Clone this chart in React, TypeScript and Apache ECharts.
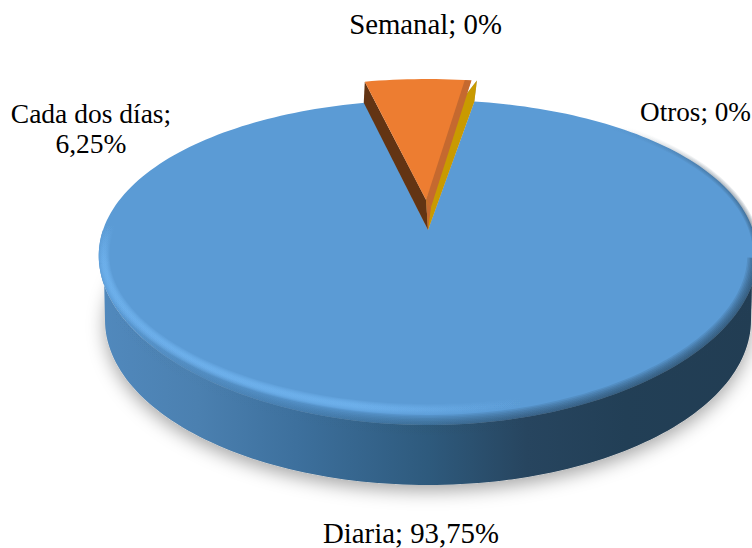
import React, { useEffect, useRef } from "react";
import * as echarts from "echarts";

const categories = ["Diaria", "Cada dos días", "Semanal", "Otros"];
const shares = [93.75, 6.25, 0, 0];
const shareLabels = ["93,75%", "6,25%", "0%", "0%"];

const FONT = '"Liberation Serif"';
const FIRST_ANGLE = 9.5;
const CX = 428, CY = 230, RX = 325, SY = 156, P = 0.2, PX = 0.16, EXPLODE = 0.2;
const BOTTOM = { cx: 428, cy: 320, rx: 323, ry: 165 };
const labelSpots = [
  { x: 411, y: 533, lines: false, size: 28.8 },
  { x: 91, y: 128, lines: true, size: 27.5 },
  { x: 425.5, y: 24, lines: false, size: 28.8 },
  { x: 695.5, y: 112, lines: false, size: 27.2 },
];

const rad = (d: number) => (d * Math.PI) / 180;
const proj = (u: number, v: number): number[] => [
  CX + (RX * u) / (1 - PX * v),
  CY + (SY * v) / (1 - P * v),
];
const polar = (deg: number, r = 1, shift = 0, shiftDeg = 0): [number, number] => [
  r * Math.sin(rad(deg)) + shift * Math.sin(rad(shiftDeg)),
  -r * Math.cos(rad(deg)) - shift * Math.cos(rad(shiftDeg)),
];
const arcPts = (a: number, b: number, r = 1, shift = 0, shiftDeg = 0): number[][] => {
  const out: number[][] = [];
  const n = Math.max(2, Math.ceil(Math.abs(b - a) / 1.5));
  for (let i = 0; i <= n; i++) {
    const [u, v] = polar(a + ((b - a) * i) / n, r, shift, shiftDeg);
    out.push(proj(u, v));
  }
  return out;
};
const bottomPts = (a: number, b: number): number[][] => {
  const out: number[][] = [];
  const n = Math.ceil(Math.abs(b - a) / 1.5);
  for (let i = 0; i <= n; i++) {
    const t = rad(a + ((b - a) * i) / n);
    out.push([BOTTOM.cx + BOTTOM.rx * Math.sin(t), BOTTOM.cy - BOTTOM.ry * Math.cos(t)]);
  }
  return out;
};
// rim curve lifted away from the front edge, used for the soft bevel
const bevelPts = (a: number, b: number, lift: number): number[][] =>
  arcPts(a, b, 0.985).map(([x, y]) => [x, y - lift * Math.max(0, Math.min(1, (y - 262) / 163))]);
const hGrad = (stops: [number, string][]) => ({
  type: "linear", x: 0, y: 0, x2: 1, y2: 0,
  colorStops: stops.map(([offset, color]) => ({ offset, color })),
});
const vGrad = (stops: [number, string][]) => ({
  type: "linear", x: 0, y: 0, x2: 0, y2: 1,
  colorStops: stops.map(([offset, color]) => ({ offset, color })),
});

const total = shares.reduce((a, b) => a + b, 0);

const renderItem = (params: any, api: any) => {
  const i = params.dataIndex;
  const val = api.value(0) as number;
  const before = shares.slice(0, i).reduce((a, b) => a + b, 0);
  const start = FIRST_ANGLE + (before / total) * 360;
  const end = start + (val / total) * 360;
  const mid = (start + end) / 2;
  const children: any[] = [];
  const spot = labelSpots[i];
  const text = spot.lines ? `${categories[i]};\n${shareLabels[i]}` : `${categories[i]}; ${shareLabels[i]}`;

  if (i === 0) {
    const silhouette = [...arcPts(90, 270), ...bottomPts(270, 90)];
    children.push({
      type: "polygon", z2: 1,
      shape: { points: bottomPts(0, 360) },
      style: { fill: "#cfcfcf", shadowBlur: 18, shadowColor: "rgba(0,0,0,0.35)", shadowOffsetY: 6 },
    });
    children.push({
      type: "polygon", z2: 2,
      shape: { points: silhouette },
      style: {
        fill: hGrad([
          [0, "#5189bd"], [0.15, "#4b80b0"], [0.3, "#3d709d"], [0.5, "#2e5a7d"],
          [0.65, "#27455f"], [0.8, "#223f56"], [1, "#223d53"],
        ]),
      },
    });
    children.push({
      type: "polygon", z2: 3,
      shape: { points: [proj(0, 0), ...arcPts(start, end)] },
      style: { fill: "#5b9bd5" },
    });
    // soft dark edge: right-hand rim, faded in from the top
    [8, 6, 4, 2].forEach((w) => {
      const alpha = 0.16;
      children.push({
        type: "polyline", z2: 4,
        shape: { points: arcPts(40, 100) },
        style: {
          fill: "none", lineWidth: w,
          stroke: vGrad([[0, "rgba(35,62,85,0)"], [0.3, `rgba(35,62,85,${alpha * 0.5})`], [1, `rgba(35,62,85,${alpha})`]]),
        },
      });
    });
    // soft wall-coloured edge round the front, same tint as the wall below it
    [20, 17, 14, 11, 8, 5, 2].forEach((w) => {
      const c = (rgb: string) => `rgba(${rgb},0.14)`;
      children.push({
        type: "polyline", z2: 4,
        shape: { points: arcPts(100, 245) },
        style: {
          fill: "none", lineWidth: w,
          stroke: hGrad([
            [0, "rgba(74,127,174,0)"], [0.12, c("74,127,174")], [0.28, c("60,111,156")],
            [0.48, c("45,88,120")], [0.63, c("39,69,95")], [0.8, c("35,63,86")], [1, c("35,62,85")],
          ]),
        },
      });
    });
    // light bevel starting on the left edge and fading out towards the right
    [11, 9, 7, 5, 3].forEach((w) => {
      const alpha = 0.2;
      const c = `rgba(116,184,244,${alpha})`;
      children.push({
        type: "polyline", z2: 5,
        shape: { points: bevelPts(272, 258, 12) },
        style: { fill: "none", lineWidth: w, stroke: vGrad([[0, "rgba(116,184,244,0)"], [1, c]]) },
      });
      children.push({
        type: "polyline", z2: 5,
        shape: { points: bevelPts(258, 165, 12) },
        style: {
          fill: "none", lineWidth: w,
          stroke: hGrad([
            [0, c], [0.6, c], [0.82, `rgba(116,184,244,${alpha * 0.4})`], [1, "rgba(116,184,244,0)"],
          ]),
        },
      });
    });
  } else {
    const home = proj(0, 0);
    if (val > 0) {
      const tip = proj(...polar(0, 0, EXPLODE, mid));
      const a = proj(...polar(start, 1, EXPLODE, mid));
      const b = proj(...polar(end, 1, EXPLODE, mid));
      const aLow = proj(...polar(start));
      aLow[0] -= 1;
      const t2 = [tip[0] + 5, tip[1] + 7];
      children.push({ type: "polygon", z2: 6, shape: { points: [a, aLow, home, tip] }, style: { fill: "#633413" } });
      children.push({ type: "polygon", z2: 7, shape: { points: [tip, home, t2] }, style: { fill: "#c5692f" } });
      children.push({ type: "polygon", z2: 8, shape: { points: [tip, ...arcPts(start, end, 1, EXPLODE, mid)] }, style: { fill: "#ed7d31" } });
      const inner = proj(...polar(end - 1.4, 1, EXPLODE, mid));
      children.push({ type: "polygon", z2: 9, shape: { points: [tip, inner, b, t2] }, style: { fill: "#c5692f" } });
    } else {
      // zero-width slices show only as a sliver tucked behind the exploded wedge
      const prevSweep = (shares[1] / total) * 360;
      const prevMid = start - prevSweep / 2;
      const oTip = proj(...polar(0, 0, EXPLODE, prevMid));
      const oRim = proj(...polar(start, 1, EXPLODE, prevMid));
      const meet = [oRim[0] + (oTip[0] - oRim[0]) * 0.12, oRim[1] + (oTip[1] - oRim[1]) * 0.12];
      const rim = proj(...polar(start, 1, EXPLODE, mid - 5.5));
      const rimLow = proj(...polar(start));
      children.push({
        type: "polygon", z2: 5,
        shape: { points: [oTip, meet, rim, rimLow, home] },
        style: { fill: i === 2 ? "#a5a5a5" : "#c99a00" },
      });
    }
  }
  children.push({
    type: "text", z2: 20, x: spot.x, y: spot.y,
    style: {
      text, fill: "#000", font: `${spot.size}px ${FONT}`, fontFamily: FONT, fontSize: spot.size,
      align: "center", verticalAlign: "middle", lineHeight: 30,
    },
  });
  return { type: "group", children };
};

export default function App() {
  const ref = useRef<HTMLDivElement>(null);
  useEffect(() => {
    const chart = echarts.init(ref.current!, undefined, { renderer: "svg" });
    chart.setOption({
      animation: false,
      backgroundColor: "#fff",
      series: [
        {
          type: "custom",
          coordinateSystem: "none",
          silent: true,
          clip: false,
          renderItem,
          data: shares.map((v, i) => [v, i]),
        },
      ],
    });
    return () => chart.dispose();
  }, []);
  return <div ref={ref} style={{ position: "fixed", left: 0, top: 0, width: 752, height: 548 }} />;
}
